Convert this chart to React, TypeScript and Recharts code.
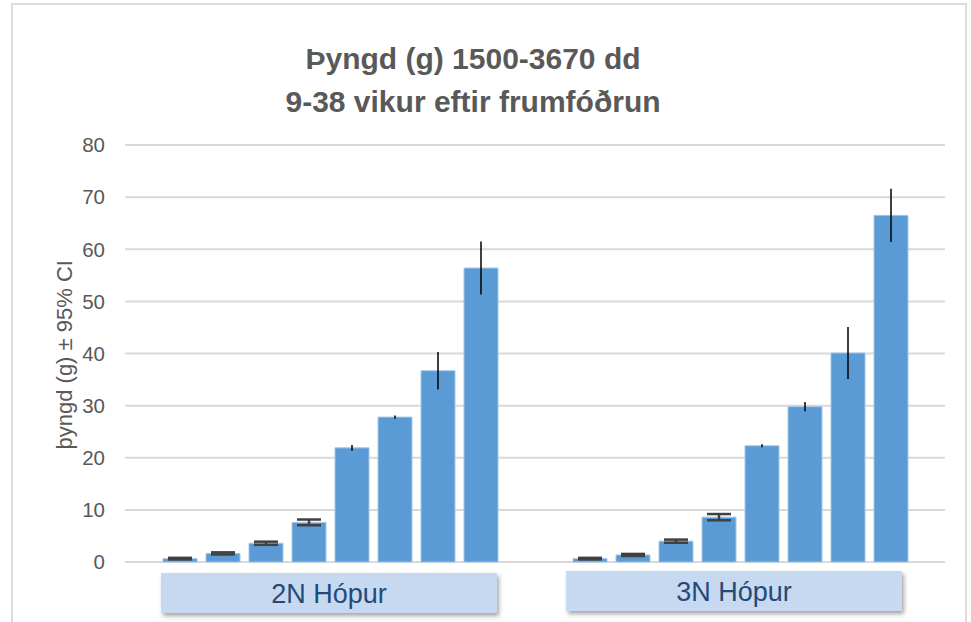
import React from "react";
import { BarChart, Bar, XAxis, YAxis, CartesianGrid, ErrorBar } from "recharts";

const categories = ["2N Hópur", "3N Hópur"];
const yTicks = [0, 10, 20, 30, 40, 50, 60, 70, 80];

// mean weight (g) per sampling, 8 samplings per group
const weight2N = [0.65, 1.65, 3.6, 7.6, 21.9, 27.8, 36.7, 56.4];
const ci2N = [0.15, 0.2, 0.3, 0.55, 0.55, 0.3, 3.6, 5.1];
const weight3N = [0.65, 1.35, 4.0, 8.6, 22.3, 29.8, 40.1, 66.5];
const ci3N = [0.15, 0.2, 0.3, 0.6, 0.3, 0.9, 5.0, 5.1];

const groups = [
  { w: weight2N, ci: ci2N },
  { w: weight3N, ci: ci3N },
];

const data = categories.map((name, i) => {
  const row: Record<string, number | string> = { name };
  groups[i].w.forEach((v, k) => {
    row["v" + k] = v;
    row["e" + k] = groups[i].ci[k];
  });
  return row;
});

const seriesIdx = weight2N.map((_, k) => k);

const FONT = "'Liberation Sans', Arial, sans-serif";

function GroupTick(props: any) {
  const { x, y, payload, index } = props;
  const w = 336;
  const h = 40;
  const shift = index === 0 ? -1 : -6;
  return (
    <g>
      <rect
        x={x - w / 2 + shift}
        y={y + 3 - index * 2}
        width={w}
        height={h}
        fill="#c6d9f0"
        filter="url(#boxShadow)"
      />
      <text
        x={x + shift}
        y={y + 33 - index * 2}
        textAnchor="middle"
        fill="#244a78"
        fontSize={27}
        fontFamily={FONT}
      >
        {payload.value}
      </text>
    </g>
  );
}

export default function App() {
  return (
    <div
      style={{
        position: "absolute",
        left: 0,
        top: 0,
        width: 971,
        height: 622,
        overflow: "hidden",
        background: "#fff",
      }}
    >
      <div
        style={{
          position: "absolute",
          left: 11,
          top: 3,
          width: 956,
          height: 660,
          border: "2px solid #dcdcdc",
          boxSizing: "border-box",
        }}
      />
      <div
        style={{
          position: "absolute",
          left: 0,
          width: 946,
          top: 37,
          textAlign: "center",
          fontFamily: FONT,
          fontWeight: "bold",
          fontSize: 30,
          lineHeight: "43px",
          color: "#595959",
        }}
      >
        <div>Þyngd (g) 1500-3670 dd</div>
        <div>9-38 vikur eftir frumfóðrun</div>
      </div>
      <div style={{ position: "absolute", left: 0, top: 0 }}>
        <BarChart
          width={971}
          height={622}
          data={data}
          margin={{ top: 145, right: 26, bottom: 10, left: 65 }}
          barSize={34}
          barGap={9}
        >
          <defs>
            <filter id="boxShadow" x="-5%" y="-20%" width="115%" height="160%">
              <feDropShadow
                dx="2"
                dy="3"
                stdDeviation="2"
                floodColor="#000"
                floodOpacity="0.35"
              />
            </filter>
          </defs>
          <CartesianGrid vertical={false} stroke="#d9d9d9" strokeWidth={2} />
          <XAxis
            dataKey="name"
            axisLine={false}
            tickLine={false}
            height={50}
            tick={<GroupTick />}
            interval={0}
          />
          <YAxis
            domain={[0, 80]}
            ticks={yTicks}
            interval={0}
            axisLine={false}
            tickLine={false}
            width={60}
            tickMargin={14}
            tick={{ fill: "#595959", fontSize: 20.5, fontFamily: FONT }}
            label={{
              value: "þyngd (g) ± 95% CI",
              angle: -90,
              position: "insideLeft",
              dx: -6,
              dy: 96,
              style: { fill: "#595959", fontSize: 22, fontFamily: FONT },
            }}
          />
          {seriesIdx.map((k) => (
            <Bar
              key={k}
              dataKey={"v" + k}
              fill="#5b9bd5"
              stroke="#a4c6e8"
              strokeWidth={1}
              isAnimationActive={false}
            >
              <ErrorBar
                dataKey={"e" + k}
                direction="y"
                width={k < 4 ? 12 : 0}
                stroke={k < 4 ? "#404040" : "#000"}
                strokeWidth={k < 4 ? 2.5 : 1.5}
              />
            </Bar>
          ))}
        </BarChart>
      </div>
    </div>
  );
}
